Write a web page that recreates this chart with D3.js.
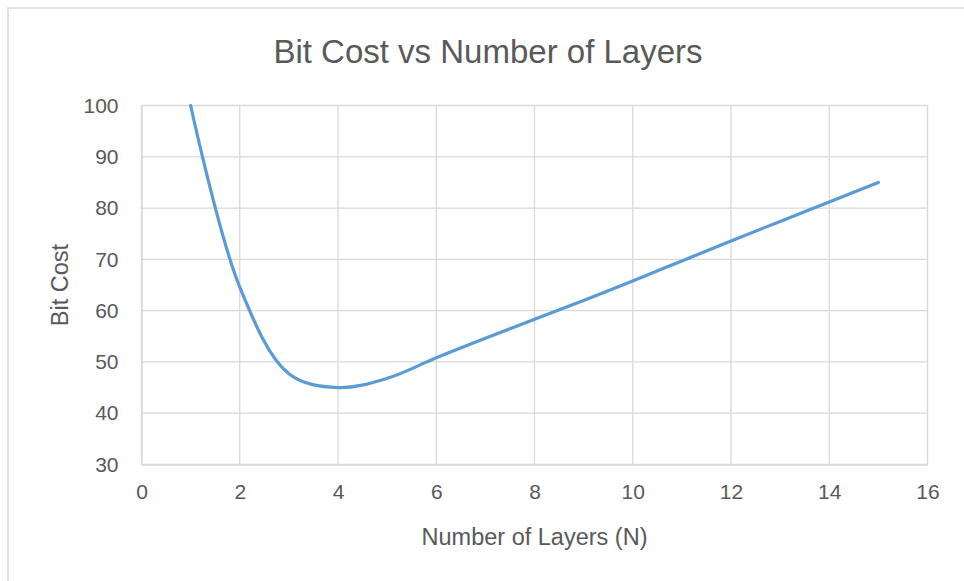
<!DOCTYPE html>
<html><head><meta charset="utf-8">
<script src="https://cdn.jsdelivr.net/npm/d3@7"></script>
<style>html,body{margin:0;padding:0;background:#fff;}svg{display:block;}</style>
</head><body>
<svg id="chart" width="964" height="581"></svg>
<script>
const layers = [1,2,3,4,5,6,7,8,9,10,11,12,13,14,15];
const bitCost = [100,64.6,47.7,45.0,46.8,50.8,54.6,58.3,62.0,65.8,69.7,73.6,77.4,81.2,85.0];
const xTicks = [0,2,4,6,8,10,12,14,16];
const yTicks = [30,40,50,60,70,80,90,100];
const title = "Bit Cost vs Number of Layers";
const xTitle = "Number of Layers (N)";
const yTitle = "Bit Cost";

const svg = d3.select("#chart");
const font = "'Liberation Sans', Arial, sans-serif";
const textCol = "#595959", gridCol = "#d9d9d9";

// chart area border
svg.append("path").attr("d","M8,585 L8,8 L970,8").attr("fill","none")
  .attr("stroke","#e3e3e3").attr("stroke-width",2);

const x = d3.scaleLinear().domain([0,16]).range([141.5,927.5]);
const y = d3.scaleLinear().domain([30,100]).range([464.5,105.5]);

// grid
svg.append("g").selectAll("line").data(xTicks).join("line")
  .attr("x1",d=>x(d)).attr("x2",d=>x(d)).attr("y1",y(30)).attr("y2",y(100))
  .attr("stroke",gridCol).attr("stroke-width",1.3);
svg.append("g").selectAll("line").data(yTicks).join("line")
  .attr("x1",x(0)).attr("x2",x(16)).attr("y1",d=>y(d)).attr("y2",d=>y(d))
  .attr("stroke",gridCol).attr("stroke-width",1.3);

// axes via d3
const xAxis = svg.append("g").attr("transform",`translate(0,${y(30)})`)
  .call(d3.axisBottom(x).tickValues(xTicks).tickSize(0).tickPadding(20));
const yAxis = svg.append("g").attr("transform",`translate(${x(0)},0)`)
  .call(d3.axisLeft(y).tickValues(yTicks).tickSize(0).tickPadding(23));
[xAxis,yAxis].forEach(a=>{
  a.select(".domain").attr("stroke",gridCol).attr("stroke-width",1.3);
  a.selectAll("text").attr("fill",textCol).style("font-family",font).style("font-size","21px");
});

// line
const line = d3.line().x((d,i)=>x(layers[i])).y(d=>y(d)).curve(d3.curveCatmullRom.alpha(0.5));
svg.append("path").datum(bitCost).attr("d",line).attr("fill","none")
  .attr("stroke","#5b9bd5").attr("stroke-width",3.2).attr("stroke-linecap","round");

// titles
svg.append("text").attr("x",488).attr("y",63).attr("text-anchor","middle")
  .attr("fill",textCol).style("font-family",font).style("font-size","33px").text(title);
svg.append("text").attr("x",534.5).attr("y",545).attr("text-anchor","middle")
  .attr("fill",textCol).style("font-family",font).style("font-size","23.5px").text(xTitle);
svg.append("text").attr("transform",`translate(68,${(y(30)+y(100))/2}) rotate(-90)`)
  .attr("text-anchor","middle").attr("fill",textCol).style("font-family",font)
  .style("font-size","23.5px").text(yTitle);
</script>
</body></html>
